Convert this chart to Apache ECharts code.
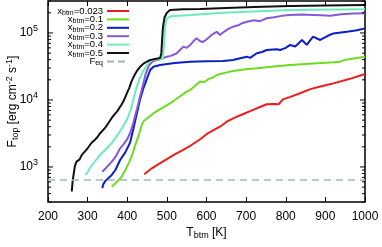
<!DOCTYPE html>
<html><head><meta charset="utf-8">
<script src="https://cdn.jsdelivr.net/npm/echarts@6/dist/echarts.min.js"></script>
<style>html,body{margin:0;padding:0;background:#fff}#c{width:382px;height:247px}</style>
</head><body><div id="c"></div>
<script>
// ---- data (T_btm [K], F_top [erg cm^-2 s^-1]) ----
const xTicks = [200, 300, 400, 500, 600, 700, 800, 900, 1000];
const yMajorTicks = [1000, 10000, 100000];
const seriesNames = ['x_btm=0.023', 'x_btm=0.1', 'x_btm=0.2', 'x_btm=0.3', 'x_btm=0.4', 'x_btm=0.5', 'F_eq'];
const x0023 = [[443,780],[462,955],[480,1110],[500,1310],[520,1540],[540,1790],[560,2090],[584,2590],[601,3110],[620,3600],[634,3990],[651,4740],[670,5400],[693,6180],[710,6800],[727,7510],[752,8630],[770,8700],[782,8630],[793,10200],[815,11300],[836,12600],[862,14500],[890,16000],[920,17700],[960,20500],[1000,24400]];
const x01 = [[361,508],[370,570],[380,650],[386,716],[395,900],[404,1150],[411,1425],[420,2100],[430,3100],[437,4300],[441,4800],[450,5300],[466,6300],[480,7100],[495,8000],[508,8900],[520,10000],[535,11500],[550,13300],[559,14100],[570,16000],[584,18800],[595,18500],[605,20500],[617,21800],[626,23600],[642,25000],[660,26500],[685,28000],[705,29000],[727,29700],[770,31500],[811,33300],[870,35000],[920,36500],[937,37300],[950,40000],[960,40400],[1000,44300]];
const x02 = [[337,480],[340,560],[345,620],[352,680],[361,760],[370,900],[382,1270],[395,1650],[407,2300],[415,3600],[422,5500],[432,10000],[440,14500],[450,21000],[458,28000],[466,31300],[483,33300],[520,35500],[559,37300],[600,37800],[642,38200],[667,39600],[685,42000],[702,44300],[710,42500],[727,49800],[740,52000],[752,55700],[777,57100],[786,55700],[800,60000],[811,66300],[824,62700],[841,78600],[853,66300],[869,88300],[887,78600],[905,90000],[920,98500],[954,104000],[980,110000],[1000,117000]];
const x03 = [[337,850],[345,950],[352,1050],[361,1200],[370,1400],[382,1900],[390,2150],[400,2600],[408,3300],[415,4500],[425,7500],[435,13000],[441,18000],[447,25000],[455,33000],[465,38000],[483,40400],[500,44300],[510,45500],[525,49800],[535,57000],[542,62500],[550,60000],[559,66300],[567,75000],[575,83400],[583,76000],[591,73500],[600,80000],[610,90000],[618,98000],[626,104000],[634,93400],[645,105000],[655,115000],[667,124000],[680,130000],[690,140000],[702,147000],[720,155000],[735,150000],[752,166000],[770,172000],[790,180000],[811,186000],[840,188000],[869,186000],[890,184000],[912,181000],[940,190000],[970,195000],[1000,197000]];
const x04 = [[295,760],[300,830],[305,950],[310,1050],[318,1200],[325,1350],[330,1500],[340,1700],[350,1950],[360,2250],[370,2700],[380,3300],[390,4100],[400,5200],[410,7500],[415,10000],[420,13000],[425,16500],[432,21500],[440,27000],[450,33000],[458,38000],[470,40000],[483,40400],[490,42000],[493,70000],[496,130000],[500,165000],[510,178000],[560,186000],[642,201000],[720,210000],[811,220000],[1000,226000]];
const x05 = [[260,430],[262,600],[265,800],[268,1040],[272,1200],[280,1300],[285,1500],[290,1600],[295,1750],[300,1900],[305,2000],[310,2300],[315,2400],[320,2600],[325,2800],[330,3100],[335,3300],[340,3600],[345,3900],[350,4300],[355,4600],[360,5300],[365,5600],[370,6300],[375,6800],[380,7600],[385,8400],[390,9500],[395,11000],[400,13000],[405,15000],[410,18500],[415,21500],[420,24500],[425,27500],[432,31000],[440,34500],[450,37500],[458,39600],[470,41000],[483,42400],[486,50000],[488,80000],[490,120000],[494,170000],[500,200000],[508,220000],[540,225000],[584,228000],[650,236000],[720,244000],[811,253000],[900,258000],[1000,262000]];
const feq = [[200,640],[1000,640]];

const colors = ['#ee1c1c', '#6ddc22', '#0b1fc4', '#8658d6', '#6cecbc', '#111111', '#a3b5b5'];
const seriesData = [x0023, x01, x02, x03, x04, x05, feq];

const yTickVals = [];
for (let e = 2; e <= 5; e++) for (let k = 1; k <= 9; k++) { const v = k * Math.pow(10, e); if (v >= 300 && v <= 300000) yTickVals.push(v); }

const FONT = 'Liberation Sans, Arial, Helvetica, sans-serif';
const chart = echarts.init(document.getElementById('c'), null, {renderer: 'canvas'});

const lineSeries = seriesData.map((d, i) => ({
  name: seriesNames[i], type: 'line', data: d, showSymbol: false, symbol: 'none',
  lineStyle: {color: colors[i], width: i === 6 ? 1.6 : 2, type: i === 6 ? [7, 5] : 'solid'},
  itemStyle: {color: colors[i]}, z: 3 + i
}));

const tickSeries = {
  type: 'custom', silent: true, z: 20,
  data: yTickVals.map(v => [v, yMajorTicks.includes(v) ? 1 : 0]),
  encode: {x: -1, y: 0},
  renderItem: (params, api) => {
    const v = api.value(0), major = api.value(1);
    const pL = api.coord([200, v]), pR = api.coord([1000, v]);
    const len = major ? 5 : 3;
    return {type: 'group', children: [
      {type: 'line', shape: {x1: pL[0], y1: pL[1], x2: pL[0] + len, y2: pL[1]}, style: {stroke: '#000', lineWidth: 1}},
      {type: 'line', shape: {x1: pR[0], y1: pR[1], x2: pR[0] - len, y2: pR[1]}, style: {stroke: '#000', lineWidth: 1}}
    ]};
  }
};

// legend (drawn as graphic so text is right-aligned against the line samples)
const sub = (n) => {
  const m = n.match(/^x_btm(=.*)$/);
  if (m) return '{a|x}{s|btm}{a|' + m[1] + '}';
  return '{a|F}{s|eq}';
};
const legendRich = {
  a: {fontSize: 9.5, fontFamily: FONT, fill: '#000', color: '#000', lineHeight: 10},
  s: {fontSize: 7, fontFamily: FONT, fill: '#000', color: '#000', lineHeight: 7, padding: [4, 0, 0, 0]}
};
const legendGraphics = [];
seriesNames.forEach((n, i) => {
  const y = 11 + i * 8.4;
  legendGraphics.push({type: 'text', z: 50, style: {text: sub(n), x: 103, y: y, align: 'right', verticalAlign: 'middle',
    font: '9.5px ' + FONT, fill: '#000', rich: legendRich}});
  legendGraphics.push({type: 'line', z: 50, shape: {x1: 107, y1: y, x2: 129, y2: y},
    style: {stroke: colors[i], lineWidth: 2, lineDash: i === 6 ? [7, 4] : null}});
});

chart.setOption({
  animation: false,
  backgroundColor: '#fff',
  grid: {left: 48, right: 17, top: 1, bottom: 45, outerBoundsMode: 'none', containLabel: false,
    show: true, borderColor: '#000', borderWidth: 1.5, backgroundColor: 'transparent'},
  graphic: legendGraphics,
  xAxis: [{
    type: 'value', min: 200, max: 1000, interval: 100, position: 'bottom',
    axisLine: {show: false}, splitLine: {show: false},
    axisTick: {inside: true, length: 5, lineStyle: {color: '#000'}},
    axisLabel: {fontFamily: FONT, fontSize: 12, color: '#000', margin: 9, formatter: (v) => String(v)},
    name: '{a|T}{s|btm}{a| [K]}', nameLocation: 'middle', nameGap: 24, nameMoveOverlap: false,
    nameTextStyle: {fontFamily: FONT, color: '#000', rich: {
      a: {fontSize: 12, fontFamily: FONT, color: '#000', lineHeight: 13},
      s: {fontSize: 9, fontFamily: FONT, color: '#000', lineHeight: 9, padding: [6, 0, 0, 0]}
    }}
  }, {
    type: 'value', min: 200, max: 1000, interval: 100, position: 'top',
    axisLine: {show: false}, splitLine: {show: false}, axisLabel: {show: false},
    axisTick: {inside: true, length: 5, lineStyle: {color: '#000'}}
  }],
  yAxis: [{
    type: 'log', logBase: 10, min: 300, max: 300000,
    axisLine: {show: false}, splitLine: {show: false}, axisTick: {show: false},
    axisLabel: {
      fontFamily: FONT, color: '#000', margin: 10,
      formatter: (v) => {
        const l = Math.log10(v), e = Math.round(l);
        if (Math.abs(l - e) > 1e-6) return '';
        return '{b|10}{p|' + e + '}';
      },
      rich: {
        b: {fontSize: 12, fontFamily: FONT, color: '#000', lineHeight: 18},
        p: {fontSize: 9, fontFamily: FONT, color: '#000', lineHeight: 9, padding: [0, 0, 9, 0]}
      }
    },
    name: '{a|F}{s|top}{a| [erg cm}{p|-2}{a| s}{p|-1}{a|]}', nameLocation: 'middle', nameGap: 28, nameMoveOverlap: false,
    nameTextStyle: {fontFamily: FONT, color: '#000', rich: {
      a: {fontSize: 12, fontFamily: FONT, color: '#000', lineHeight: 14},
      s: {fontSize: 9, fontFamily: FONT, color: '#000', lineHeight: 9, padding: [6, 0, 0, 0]},
      p: {fontSize: 9, fontFamily: FONT, color: '#000', lineHeight: 9, padding: [0, 0, 7, 0]}
    }}
  }],
  series: lineSeries.concat([tickSeries])
});
</script></body></html>
